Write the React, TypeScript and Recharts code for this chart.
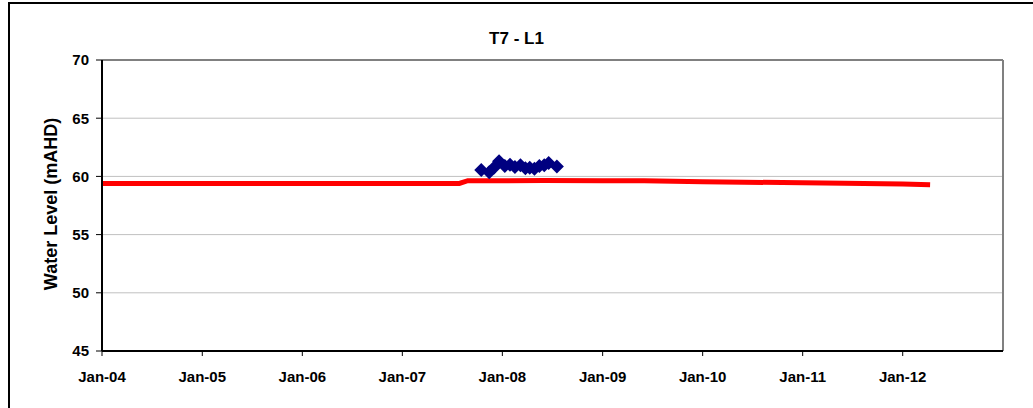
import React from 'react'
import {
  ComposedChart,
  Line,
  Scatter,
  XAxis,
  YAxis,
  CartesianGrid,
  ReferenceLine
} from 'recharts'

// modelled water level (red line)
const modelDates = [
  '2004-01-01', '2007-07-28', '2007-08-28', '2008-06-01', '2009-01-01',
  '2009-06-01', '2010-01-01', '2010-06-01', '2011-01-01', '2011-06-01',
  '2012-01-01', '2012-04-10'
]
const modelLevels = [
  59.4, 59.4, 59.63, 59.64, 59.63,
  59.62, 59.55, 59.5, 59.46, 59.42,
  59.35, 59.28
]

// observed water level (blue diamonds)
const obsDates = [
  '2007-10-16', '2007-11-14', '2007-12-01', '2007-12-20', '2008-01-10',
  '2008-01-29', '2008-02-16', '2008-03-07', '2008-03-25', '2008-04-10',
  '2008-04-27', '2008-05-15', '2008-06-02', '2008-06-18', '2008-07-18'
]
const obsLevels = [
  60.55, 60.35, 60.75, 61.3, 60.9,
  61.0, 60.8, 60.95, 60.7, 60.75,
  60.65, 60.9, 60.95, 61.15, 60.85
]

const tickYears = [2004, 2005, 2006, 2007, 2008, 2009, 2010, 2011, 2012]
const tickLabels = ['Jan-04', 'Jan-05', 'Jan-06', 'Jan-07', 'Jan-08', 'Jan-09', 'Jan-10', 'Jan-11', 'Jan-12']
const yTicks = [45, 50, 55, 60, 65, 70]

const toTime = (d: string) => new Date(d + 'T00:00:00Z').getTime()

const modelData = modelDates.map((d, i) => ({ t: toTime(d), v: modelLevels[i] }))
const obsData = obsDates.map((d, i) => ({ t: toTime(d), v: obsLevels[i] }))
const xTicks = tickYears.map(y => Date.UTC(y, 0, 1))
const xStart = Date.UTC(2004, 0, 1)
const xEnd = Date.UTC(2013, 0, 1)

const FONT = "'Liberation Sans', Arial, sans-serif"

const Diamond = (props: any) => {
  const { cx, cy } = props
  const r = 7
  return (
    <polygon
      points={`${cx},${cy - r} ${cx + r},${cy} ${cx},${cy + r} ${cx - r},${cy}`}
      fill="#000080"
    />
  )
}

const xLabel = (v: number) => {
  const i = xTicks.indexOf(v)
  return i >= 0 ? tickLabels[i] : ''
}

export default function App() {
  return (
    <div
      style={{
        position: 'absolute',
        left: 0,
        top: 0,
        width: 1033,
        height: 408,
        overflow: 'hidden',
        background: '#fff',
        fontFamily: FONT
      }}
    >
      <div
        style={{
          position: 'absolute',
          left: 8,
          top: 2,
          width: 1100,
          height: 500,
          borderTop: '2px solid #000',
          borderLeft: '2px solid #000'
        }}
      />
      <div
        style={{
          position: 'absolute',
          left: 0,
          top: 30,
          width: 1033,
          textAlign: 'center',
          fontWeight: 'bold',
          fontSize: 17,
          lineHeight: '17px',
          color: '#000'
        }}
      >
        T7 - L1
      </div>
      <div style={{ position: 'absolute', left: 0, top: 0 }}>
        <ComposedChart
          width={1033}
          height={408}
          margin={{ top: 60, right: 30, bottom: 17, left: 0 }}
        >
          <CartesianGrid horizontal vertical={false} stroke="#c0c0c0" />
          <XAxis
            dataKey="t"
            type="number"
            domain={[xStart, xEnd]}
            ticks={xTicks}
            interval={0}
            tickFormatter={xLabel}
            height={40}
            tickSize={5}
            tickMargin={15}
            axisLine={{ stroke: '#000', strokeWidth: 2 }}
            tickLine={{ stroke: '#000', strokeWidth: 1 }}
            tick={{ fill: '#000', fontSize: 15, fontWeight: 'bold', fontFamily: FONT }}
            allowDataOverflow
          />
          <YAxis
            dataKey="v"
            type="number"
            domain={[45, 70]}
            ticks={yTicks}
            interval={0}
            width={102}
            tickSize={6}
            tickMargin={7}
            axisLine={{ stroke: '#000', strokeWidth: 2 }}
            tickLine={{ stroke: '#000', strokeWidth: 1 }}
            tick={{ fill: '#000', fontSize: 15, fontWeight: 'bold', fontFamily: FONT }}
            label={{
              content: () => (
                <text
                  x={51}
                  y={204}
                  transform="rotate(-90 51 204)"
                  textAnchor="middle"
                  dominantBaseline="central"
                  fill="#000"
                  fontSize={18}
                  fontWeight="bold"
                  fontFamily={FONT}
                >
                  Water Level (mAHD)
                </text>
              )
            }}
          />
          <ReferenceLine y={70} stroke="#808080" strokeWidth={2} />
          <ReferenceLine x={xEnd} stroke="#808080" strokeWidth={2} />
          <Line
            data={modelData}
            dataKey="v"
            type="linear"
            stroke="#ff0000"
            strokeWidth={5}
            dot={false}
            activeDot={false}
            isAnimationActive={false}
          />
          <Scatter
            data={obsData}
            dataKey="v"
            shape={<Diamond />}
            isAnimationActive={false}
          />
        </ComposedChart>
      </div>
    </div>
  )
}
